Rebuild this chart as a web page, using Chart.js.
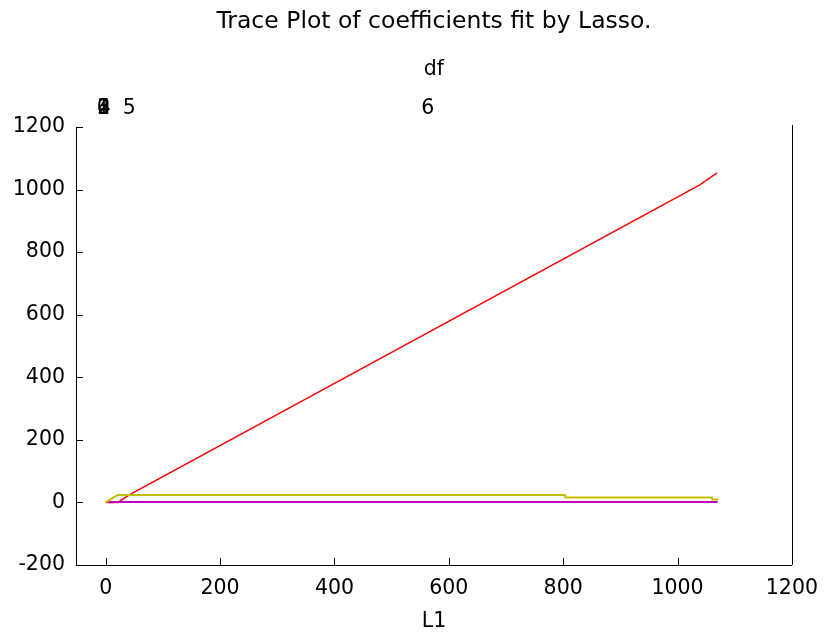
<!DOCTYPE html>
<html>
<head>
<meta charset="utf-8">
<script src="https://cdn.jsdelivr.net/npm/chart.js@4/dist/chart.umd.min.js"></script>
<style>
  html, body { margin: 0; padding: 0; background: #fff; }
  #wrap { width: 829px; height: 634px; position: relative; }
</style>
</head>
<body>
<div id="wrap"><canvas id="c" width="829" height="634"></canvas></div>
<script>
// ---- data ----
const titleText = "Trace Plot of coefficients fit by Lasso.";
const xTitle = "L1";
const topTitle = "df";
const xTickValues = [0, 200, 400, 600, 800, 1000, 1200];
const yTickValues = [-200, 0, 200, 400, 600, 800, 1000, 1200];
const dfPositions = [-4.5, -4, -3.5, -3, -2.5, 41, 563];
const dfLabels = ["0", "1", "2", "3", "4", "5", "6"];

const redL1 = [0, 21, 42, 1039, 1069];
const redCoef = [0, 0, 25, 1015, 1053];
const yellowL1 = [0, 21, 803, 804, 1060, 1061, 1071];
const yellowCoef = [0, 24, 24, 16, 16, 9, 9];
const magentaL1 = [5, 1070];
const magentaCoef = [1, 1];

const pts = (xs, ys) => xs.map((x, i) => ({ x: x, y: ys[i] }));

const FONT = "'DejaVu Sans', Verdana, sans-serif";
const FS = 20.5;

const inwardTicks = {
  id: 'inwardTicks',
  afterDraw(chart) {
    const ctx = chart.ctx, a = chart.chartArea;
    const xs = chart.scales.x, ys = chart.scales.y;
    ctx.save();
    ctx.strokeStyle = '#000';
    ctx.lineWidth = 1;
    ctx.beginPath();
    xs.ticks.forEach(t => {
      const p = Math.round(xs.getPixelForValue(t.value)) + 0.5;
      ctx.moveTo(p, a.bottom); ctx.lineTo(p, a.bottom - 7);
    });
    ys.ticks.forEach(t => {
      const p = Math.round(ys.getPixelForValue(t.value)) + 0.5;
      ctx.moveTo(a.left, p); ctx.lineTo(a.left + 7, p);
    });
    const r = Math.round(a.right) + 0.5;
    ctx.moveTo(r, a.top - 2); ctx.lineTo(r, a.bottom);
    ctx.stroke();
    ctx.restore();
  }
};

new Chart(document.getElementById('c'), {
  type: 'line',
  data: {
    datasets: [
      { data: pts(yellowL1, yellowCoef), borderColor: 'rgb(191,191,0)', borderWidth: 2, pointRadius: 0, fill: false, tension: 0 },
      { data: pts(magentaL1, magentaCoef), borderColor: 'rgb(191,0,191)', borderWidth: 2, pointRadius: 0, fill: false, tension: 0 },
      { data: pts(redL1, redCoef), borderColor: 'rgb(255,0,0)', borderWidth: 1.5, pointRadius: 0, fill: false, tension: 0 }
    ]
  },
  options: {
    responsive: false,
    animation: false,
    devicePixelRatio: 1,
    layout: { padding: { left: 0, right: 36, top: 0, bottom: 0 } },
    plugins: {
      legend: { display: false },
      tooltip: { enabled: false },
      title: { display: false }
    },
    scales: {
      x: {
        type: 'linear', position: 'bottom', min: -52, max: 1200,
        afterBuildTicks: s => { s.ticks = xTickValues.map(v => ({ value: v })); },
        afterFit: s => { s.height = 69; },
        grid: { display: false, drawTicks: false },
        border: { display: true, color: '#000', width: 1 },
        ticks: { color: '#000', font: { family: FONT, size: FS }, padding: 11, maxRotation: 0, autoSkip: false,
                 callback: v => String(v) },
        title: { display: true, text: xTitle, color: '#000', font: { family: FONT, size: FS }, padding: { top: 0, bottom: 0 } }
      },
      head: {
        type: 'linear', position: 'top', min: -52, max: 1200, weight: 5,
        afterFit: s => { s.height = 36; },
        grid: { display: false, drawTicks: false },
        border: { display: false },
        ticks: { display: false },
        title: { display: true, text: titleText, color: '#000', font: { family: FONT, size: 23.5, lineHeight: 1.2 }, padding: { top: 8, bottom: 0 } }
      },
      top: {
        type: 'linear', position: 'top', min: -52, max: 1200, weight: 0,
        afterBuildTicks: s => { s.ticks = dfPositions.map(v => ({ value: v })); },
        afterFit: s => { s.height = 127 - 36; },
        grid: { display: false, drawTicks: false },
        border: { display: false },
        ticks: {
          color: '#000', font: { family: FONT, size: FS }, padding: 6, maxRotation: 0, autoSkip: false,
          callback: (v, i) => dfLabels[i]
        },
        title: { display: true, text: topTitle, color: '#000', font: { family: FONT, size: FS }, padding: { top: 21, bottom: 0 } }
      },
      y: {
        type: 'linear', position: 'left', min: -200, max: 1200,
        afterBuildTicks: s => { s.ticks = yTickValues.map(v => ({ value: v })); },
        afterFit: s => { s.width = 76; },
        grid: { display: false, drawTicks: false },
        border: { display: true, color: '#000', width: 1 },
        ticks: { color: '#000', font: { family: FONT, size: FS }, padding: 11, callback: v => String(v) }
      }
    }
  },
  plugins: [inwardTicks]
});
</script>
</body>
</html>
